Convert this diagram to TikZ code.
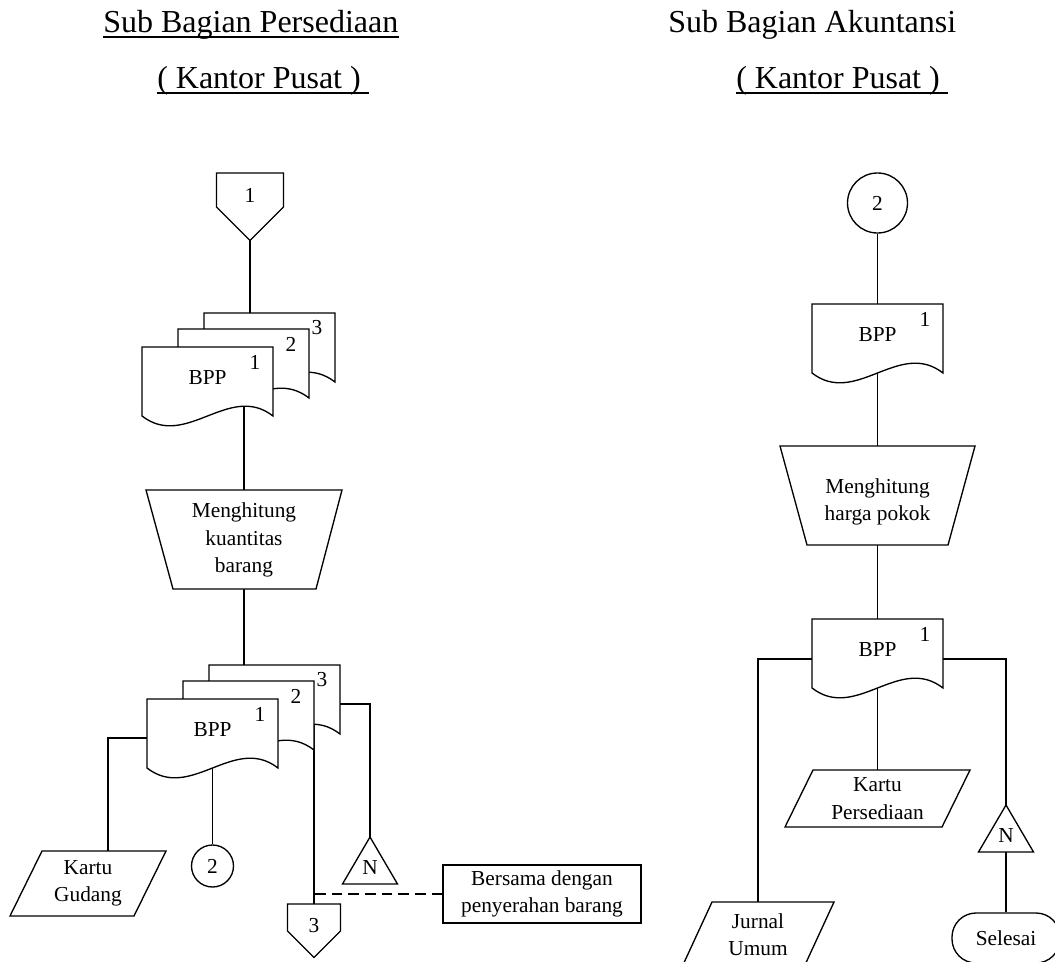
\documentclass[tikz,border=0pt]{standalone}
\usepackage{fontspec}
\setmainfont{Liberation Serif}
\usetikzlibrary{backgrounds,calc}

\tikzset{
  x=0.75pt, y=-0.75pt,
  outline/.style={draw=black, line width=1pt, fill=white, line join=miter},
  link/.style={draw=black, line width=1pt},
  note/.style={dash pattern=on 8pt off 4.5pt},
  lbl/.style={inner sep=0pt, font=\fontsize{16pt}{20.5pt}\selectfont, align=center},
  heading/.style={inner sep=0pt, font=\fontsize{24pt}{28pt}\selectfont, anchor=base west},
  rule/.style={draw=black, line width=1.5pt},
}

% document symbol: name, left, top, text, copy number
\newcommand{\bppdoc}[5]{%
  \draw[outline] (#2,#3) -- ++(131,0) -- ++(0,69)
     .. controls +(-44,-34) and +(44,34) .. ++(-131,0) -- cycle;
  \node[lbl] (#1) at ({#2+65.5},{#3+31}) {#4};
  \node[lbl] (#1-no) at ({#2+113},{#3+15}) {#5};
}
% off-page connector: name, centre x, top, half width, side length, label
\newcommand{\offpage}[6]{%
  \draw[outline] ({#2-#4},#3) -- ({#2+#4},#3) -- ({#2+#4},{#3+#5})
     -- (#2,{#3+#5+#4}) -- ({#2-#4},{#3+#5}) -- cycle;
  \node[lbl] (#1) at (#2,{#3+22}) {#6};
}
% manual input card: name, top-left x, top y, width, height, slant, text
\newcommand{\card}[7]{%
  \draw[outline] (#2,#3) -- ++(#4,0) -- ++(-#6,#5) -- ++(-#4,0) -- cycle;
  \node[lbl] (#1) at ({#2+#4/2-#6/2},{#3+#5/2}) {#7};
}
% file (triangle) symbol: name, apex x, apex y
\newcommand{\filemark}[3]{%
  \draw[outline] (#2,#3) -- ({#2+27.5},{#3+47}) -- ({#2-27.5},{#3+47}) -- cycle;
  \node[lbl] (#1) at (#2,{#3+31}) {N};
}

\begin{document}
\begin{tikzpicture}
\useasboundingbox (0,0) rectangle (1055,962);
\clip (0,0) rectangle (1055,962);

% ---------- headings ----------
\node[heading] (hL1) at (103,33) {Sub Bagian Persediaan\ };
\draw[rule] ($(hL1.base west)+(0,4)$) -- ($(hL1.base east)+(0,4)$);
\node[heading] (hL2) at (157,89) {( Kantor Pusat )\ \hspace{3pt}};
\draw[rule] ($(hL2.base west)+(0,4)$) -- ($(hL2.base east)+(0,4)$);
\node[heading] (hR1) at (668,33) {Sub Bagian Akuntansi};
\node[heading] (hR2) at (736,89) {( Kantor Pusat )\ \hspace{3pt}};
\draw[rule] ($(hR2.base west)+(0,4)$) -- ($(hR2.base east)+(0,4)$);

% ---------- Sub Bagian Persediaan ----------
\offpage{off1}{250}{173}{33.5}{34}{1}
\bppdoc{a3}{204}{313}{}{3}
\bppdoc{a2}{178}{329}{}{2}
\bppdoc{a1}{142}{347}{BPP}{1}

\draw[outline] (146,490) -- (342,490) -- (316,589) -- (173,589) -- cycle;
\node[lbl] (procA) at (244,540) {Menghitung\\kuantitas\\barang};

\bppdoc{b3}{209}{665}{}{3}
\bppdoc{b2}{183}{681}{}{2}
\bppdoc{b1}{147}{699}{BPP}{1}

\card{kg}{42}{851}{124}{65}{32}{Kartu\\Gudang}
\node[outline, lbl, circle, minimum size=31.5pt] (c2a) at (212.5,866) {2};
\filemark{nA}{370}{837}
\offpage{off3}{314}{904}{26.5}{27}{3}
\node[outline, lbl, minimum width=148.5pt, minimum height=43.5pt] (box) at (542,894)
  {Bersama dengan\\penyerahan barang};

% ---------- Sub Bagian Akuntansi ----------
\node[outline, lbl, circle, minimum size=45pt] (c2b) at (877.5,203) {2};
\bppdoc{r1}{812}{304}{BPP}{1}
\draw[outline] (780,446) -- (975,446) -- (948,545) -- (807,545) -- cycle;
\node[lbl] (procB) at (877.5,502) {Menghitung\\harga pokok};
\bppdoc{r2}{812}{619}{BPP}{1}
\card{kp}{813}{770}{157}{57}{28}{Kartu\\Persediaan}
\card{ju}{712}{902}{122}{65}{30}{Jurnal\\Umum}
\filemark{nB}{1006}{805}
\node[outline, lbl, rounded corners=18pt, minimum width=81pt, minimum height=37.5pt]
  (fin) at (1006,938) {Selesai};

% ---------- flow lines (behind the symbols) ----------
\begin{scope}[on background layer]
  \fill[white] (0,0) rectangle (1055,962);
  \draw[link] (off1) -- (off1 |- a2);
  \draw[link] (procA) -- (procA |- a1);
  \draw[link] (procA) -- (procA |- b2);
  \draw[link] ($(b1)+(0,8)$) -| ($(kg)+(20,0)$);
  \draw[link] (b1) -- (c2a);
  \draw[link] (off3) -- (off3 |- b2);
  \draw[link] (nA) |- ($(b3)+(0,8)$);
  \draw[link, note] (box) -- (box -| off3);

  \draw[link] (c2b) -- (c2b |- r1);
  \draw[link] (procB) -- (procB |- r1);
  \draw[link] (procB) -- (procB |- r2);
  \draw[link] ($(r2)+(0,9)$) -| (ju);
  \draw[link] (r2) -- (kp);
  \draw[link] ($(r2)+(0,9)$) -| (nB);
  \draw[link] (nB) -- (fin);
\end{scope}
\end{tikzpicture}
\end{document}
